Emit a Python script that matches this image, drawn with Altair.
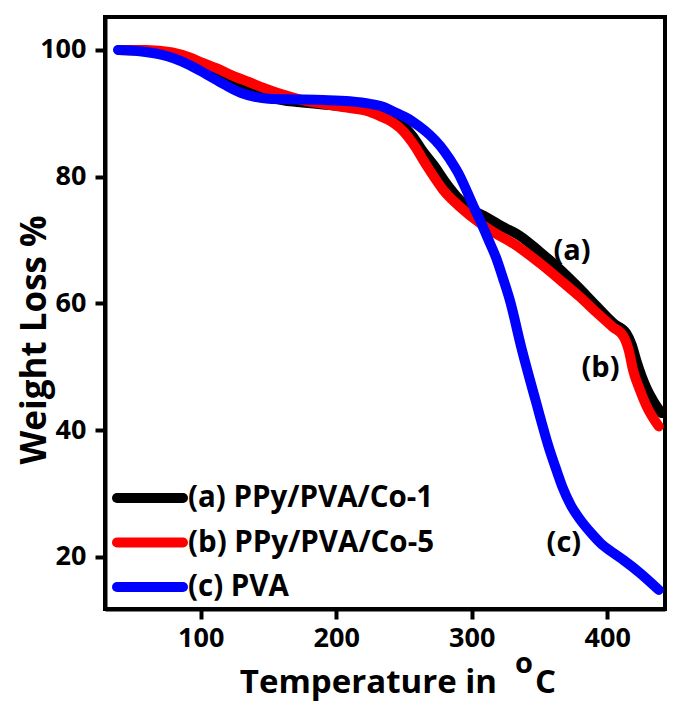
import altair as alt
import pandas as pd

# ---------------- data ----------------
series_labels = ["(a) PPy/PVA/Co-1", "(b) PPy/PVA/Co-5", "(c) PVA"]
series_colors = ["#000000", "#ff0000", "#0000ff"]

temp_a = [40, 60, 79, 92, 104, 117, 130, 140, 150, 162, 175, 190, 200, 215, 230, 240,
          248, 256, 264, 272, 280, 291, 300, 311, 322, 336, 350, 363, 378, 392, 405,
          414, 418, 422, 429, 434, 440]
wt_a = [100.0, 99.8, 99.2, 98.2, 97.0, 95.6, 94.3, 93.3, 92.6, 92.0, 91.7, 91.4, 91.2,
        90.9, 90.3, 89.5, 88.3, 86.5, 84.0, 81.8, 79.3, 76.4, 74.8, 73.6, 72.2, 70.6,
        68.2, 65.8, 62.7, 59.6, 56.8, 55.3, 53.5, 50.6, 46.6, 44.6, 42.7]

temp_b = [40, 60, 79, 92, 101, 112, 123, 136, 148, 160, 175, 190, 208, 222, 232, 240,
          247, 253, 259, 264, 269, 279, 291, 306, 318, 331, 350, 368, 380, 392, 404,
          412, 416, 419, 424, 429, 438]
wt_b = [100.0, 100.0, 99.6, 98.8, 98.0, 97.1, 96.0, 94.9, 93.9, 93.0, 92.1, 91.5, 90.9,
        90.4, 89.6, 88.8, 87.7, 86.3, 84.5, 82.7, 81.0, 77.9, 75.3, 72.7, 71.0, 69.4,
        66.4, 63.2, 61.0, 58.6, 56.3, 54.8, 52.5, 49.5, 46.4, 43.8, 40.6]

temp_c = [39, 55, 70, 80, 92, 104, 117, 130, 140, 150, 170, 190, 210, 225, 235, 245,
          252, 261, 269, 277, 284, 290, 296, 302, 306, 312, 318, 323, 328, 337, 347,
          357, 363, 367, 373, 380, 388, 395, 404, 412, 424, 438]
wt_c = [100.0, 99.8, 99.3, 98.7, 97.6, 96.2, 94.6, 93.2, 92.6, 92.3, 92.2, 92.1, 91.9,
        91.5, 91.0, 90.0, 89.3, 88.0, 86.6, 84.8, 82.7, 80.6, 77.9, 75.0, 73.2, 70.2,
        67.2, 64.0, 60.6, 52.7, 44.8, 37.2, 33.4, 31.0, 28.2, 25.9, 23.8, 22.2, 20.7,
        19.5, 17.5, 14.8]

x_ticks = [100, 200, 300, 400]
y_ticks = [20, 40, 60, 80, 100]

ann_text = ["(a)", "(b)", "(c)"]
ann_x = [374, 395, 368]
ann_y = [68.3, 49.8, 22.2]

x_title = "Temperature in"
x_title_sup = "o"
x_title_unit = "C"
y_title = "Weight Loss %"

# ---------------- build ----------------
FONT = "Open Sans"
W, H = 560, 592

temps = [temp_a, temp_b, temp_c]
wts = [wt_a, wt_b, wt_c]

xs = alt.Scale(domain=[29.4, 442.6], nice=False, zero=False)
ys = alt.Scale(domain=[11.79, 105.2], nice=False, zero=False)

common_axis = dict(
    labelFontSize=27, labelFont=FONT, labelFontWeight="bold", labelColor="black",
    tickSize=10, tickWidth=4, tickColor="black", domainColor="black", domainWidth=4,
    grid=False, title=None,
)
x_axis = alt.Axis(values=x_ticks, labelPadding=6, **common_axis)
y_axis = alt.Axis(values=y_ticks, labelPadding=9, **common_axis)

layers = []
for i, (lab, col) in enumerate(zip(series_labels, series_colors)):
    df = pd.DataFrame({"temp": temps[i], "wt": wts[i], "idx": range(len(temps[i]))})
    layers.append(
        alt.Chart(df).mark_line(
            strokeWidth=10, strokeCap="round", strokeJoin="round",
            interpolate="monotone", color=col,
        ).encode(
            x=alt.X("temp:Q", scale=xs, axis=x_axis),
            y=alt.Y("wt:Q", scale=ys, axis=y_axis),
            order="idx:Q",
        )
    )

ann_df = pd.DataFrame({"t": ann_text, "x": ann_x, "y": ann_y})
layers.append(
    alt.Chart(ann_df).mark_text(
        font=FONT, fontSize=29, fontWeight="bold", color="black",
        align="center", baseline="middle",
    ).encode(x=alt.X("x:Q", scale=xs), y=alt.Y("y:Q", scale=ys), text="t:N")
)

# legend (manual)
for i, (lab, col) in enumerate(zip(series_labels, series_colors)):
    py = 481 + 44.5 * i
    one = pd.DataFrame({"label": [lab]})
    layers.append(
        alt.Chart(one).mark_rule(strokeWidth=10, strokeCap="round", color=col).encode(
            x=alt.value(12), x2=alt.value(78), y=alt.value(py)
        )
    )
    layers.append(
        alt.Chart(one).mark_text(
            font=FONT, fontSize=29.5, fontWeight="bold", color="black",
            align="left", baseline="middle",
        ).encode(x=alt.value(83), y=alt.value(py), text="label:N")
    )

# axis titles
def text_layer(txt, x, y, size, align, angle=0):
    d = pd.DataFrame({"t": [txt]})
    return alt.Chart(d).mark_text(
        font=FONT, fontSize=size, fontWeight="bold", color="black",
        align=align, baseline="alphabetic", angle=angle,
    ).encode(x=alt.value(x), y=alt.value(y), text="t:N")

layers.append(text_layer(x_title, 392, 676, 33, "right"))
layers.append(text_layer(x_title_sup, 419, 656, 29, "center"))
layers.append(text_layer(x_title_unit, 430, 676, 33, "left"))
layers.append(text_layer(y_title, -59, 323, 35, "center", angle=270))

chart = alt.layer(*layers).properties(
    width=W, height=H,
    autosize=alt.AutoSizeParams(type="none"),
    padding={"left": 97, "top": 9, "right": 2, "bottom": 94},
    background="white",
).configure_view(stroke="black", strokeWidth=4)

chart.save("out.html", embed_options={"renderer": "svg", "actions": False})
